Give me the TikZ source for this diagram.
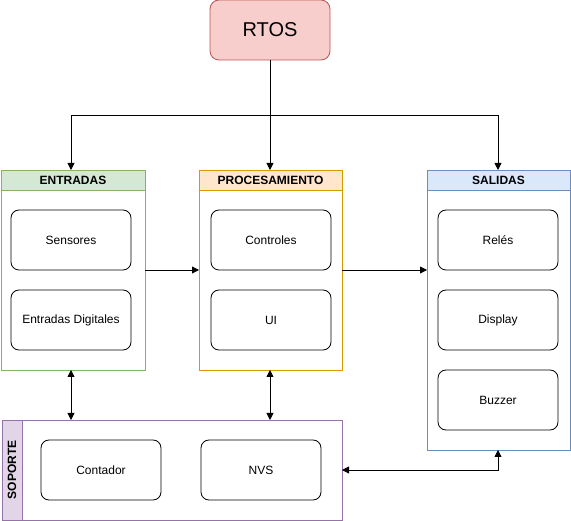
\documentclass[tikz,border=0pt]{standalone}
\usepackage{fontspec}
\setmainfont{Liberation Sans}
\usetikzlibrary{arrows.meta}
\begin{document}
\begin{tikzpicture}[x=1pt,y=-1pt,
  inner/.style={draw=black,rounded corners=8pt,line width=0.8pt,minimum width=120pt,minimum height=60pt,font=\fontsize{12}{14}\selectfont,inner sep=0pt},
  arr/.style={-{Triangle[length=7pt,width=7pt]},line width=0.8pt},
  darr/.style={{Triangle[length=7pt,width=7pt]}-{Triangle[length=7pt,width=7pt]},line width=0.8pt},
  hdr/.style={font=\bfseries\fontsize{12}{14}\selectfont}]
\useasboundingbox (0,0) rectangle (571,521);
\definecolor{rfill}{HTML}{F8CECC}\definecolor{rline}{HTML}{B85450}
\definecolor{gfill}{HTML}{D5E8D4}\definecolor{gline}{HTML}{82B366}
\definecolor{ofill}{HTML}{FFE6CC}\definecolor{oline}{HTML}{D79B00}
\definecolor{bfill}{HTML}{DAE8FC}\definecolor{bline}{HTML}{6C8EBF}
\definecolor{pfill}{HTML}{E1D5E7}\definecolor{pline}{HTML}{9673A6}
% RTOS
\node[draw=rline,fill=rfill,rounded corners=9pt,minimum width=120pt,minimum height=60pt,line width=0.8pt,font=\fontsize{20}{24}\selectfont] (rtos) at (270,30) {RTOS};
% ENTRADAS
\draw[gline,line width=0.8pt,fill=gfill] (1,170) rectangle (145,190);
\draw[gline,line width=0.8pt] (1,170) rectangle (145,370);
\node[hdr] (enth) at (73,180) {ENTRADAS};
\coordinate (entT) at (71,170);
\coordinate (entR) at (145,270);
\coordinate (entB) at (71,370);
% PROCESAMIENTO
\draw[oline,line width=0.8pt,fill=ofill] (199,170) rectangle (342,190);
\draw[oline,line width=0.8pt] (199,170) rectangle (342,370);
\node[hdr] (proh) at (270.5,180) {PROCESAMIENTO};
\coordinate (proT) at (270,170);
\coordinate (proL) at (199,270);
\coordinate (proR) at (342,270);
\coordinate (proB) at (270,370);
% SALIDAS
\draw[bline,line width=0.8pt,fill=bfill] (427,170) rectangle (570,190);
\draw[bline,line width=0.8pt] (427,170) rectangle (570,450);
\node[hdr] (salh) at (498.5,180) {SALIDAS};
\coordinate (salT) at (498,170);
\coordinate (salL) at (427,270);
\coordinate (salB) at (498,450);
% SOPORTE
\draw[pline,line width=0.8pt,fill=pfill] (2,420) rectangle (22,520);
\draw[pline,line width=0.8pt] (2,420) rectangle (342,520);
\node[hdr,rotate=90] (soph) at (12,470) {SOPORTE};
\coordinate (sopT1) at (71,420);
\coordinate (sopT2) at (270,420);
\coordinate (sopR) at (342,470);
% inner boxes
\node[inner] (sens) at (71,240) {Sensores};
\node[inner] (edig) at (71,320) {Entradas Digitales};
\node[inner] (ctrl) at (271,240) {Controles};
\node[inner] (ui) at (271,320) {UI};
\node[inner] (rele) at (498,240) {Relés};
\node[inner] (disp) at (498,320) {Display};
\node[inner] (buzz) at (498,400) {Buzzer};
\node[inner] (cont) at (101,470) {Contador};
\node[inner] (nvs) at (261,470) {NVS};
% connectors
\draw[arr] (rtos.south) -- (270,115) -| (entT);
\draw[arr] (rtos.south) -- (proT);
\draw[arr] (rtos.south) -- (270,115) -| (salT);
\draw[arr] (entR) -- (proL);
\draw[arr] (proR) -- (salL);
\draw[darr] (entB) -- (sopT1);
\draw[darr] (proB) -- (sopT2);
\draw[darr] (salB) |- (sopR);
\end{tikzpicture}
\end{document}
